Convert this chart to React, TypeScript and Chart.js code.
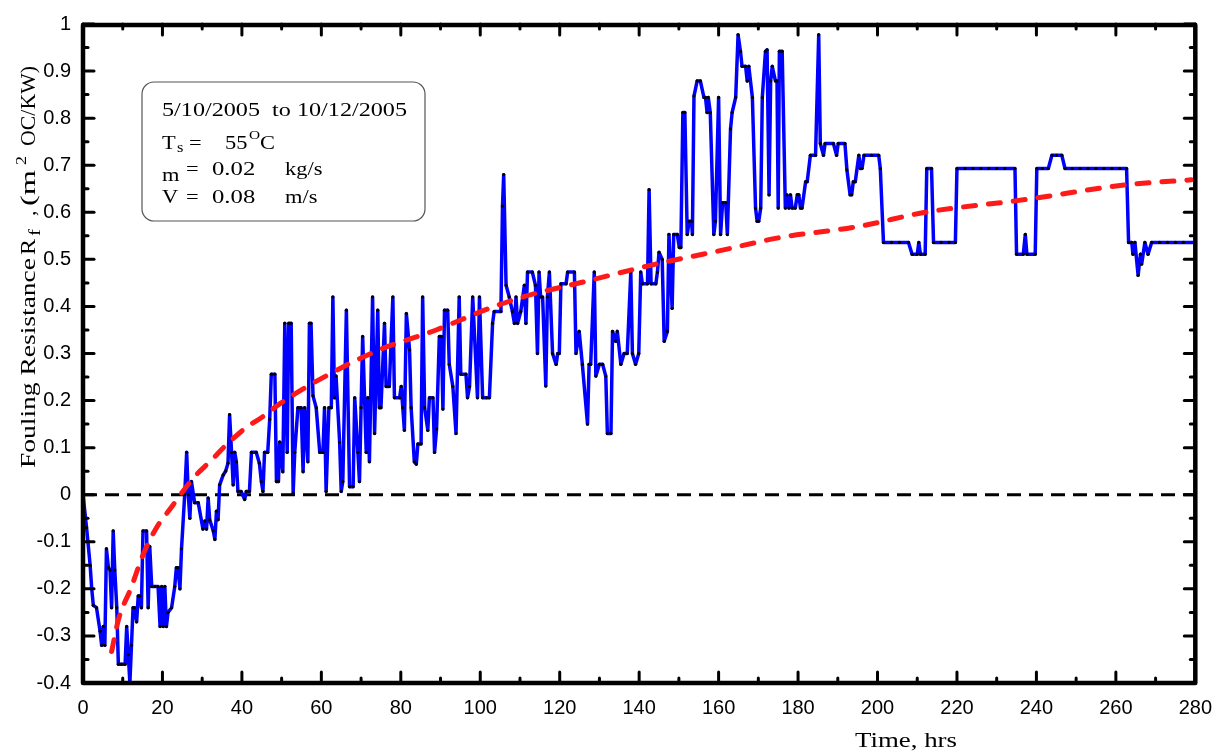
import React, { useEffect, useRef } from "react";
import { Chart, registerables } from "chart.js";

Chart.register(...registerables);

// Measured fouling resistance: [time (hrs), Rf]
const measured: [number, number][] = [
  [0, 0], [0.9, -0.07], [1.8, -0.15], [2.2, -0.2], [2.6, -0.235], [3.4, -0.24], [4.3, -0.29], [4.7, -0.32], [5.1, -0.28], [5.5, -0.32],
  [5.9, -0.115], [6.4, -0.155], [6.8, -0.16], [7.2, -0.24], [7.6, -0.077], [8.0, -0.16], [8.5, -0.24], [8.9, -0.36], [9.7, -0.36], [10.6, -0.36],
  [11.0, -0.28], [11.4, -0.34], [11.8, -0.4], [12.2, -0.32], [12.6, -0.24], [13.0, -0.24], [13.5, -0.27], [13.9, -0.215], [14.3, -0.215], [14.7, -0.24],
  [15.1, -0.077], [16.0, -0.077], [16.4, -0.24], [16.8, -0.11], [17.3, -0.195], [18.1, -0.195], [18.9, -0.195], [19.4, -0.28], [19.8, -0.195], [20.2, -0.28],
  [20.6, -0.195], [21.0, -0.28], [21.4, -0.25], [22.3, -0.24], [23.1, -0.195], [23.5, -0.155], [23.9, -0.155], [24.4, -0.2], [24.8, -0.115], [25.6, 0],
  [26.1, 0.09], [26.5, 0], [26.9, -0.05], [27.3, 0.028], [28.1, -0.017], [29.0, -0.017], [30.2, -0.073], [30.7, -0.056], [31.1, -0.073], [31.5, -0.007],
  [31.9, -0.053], [32.8, -0.077], [33.2, -0.095], [33.6, -0.035], [34.0, -0.053], [34.4, 0.021], [35.3, 0.042], [35.9, 0.05], [36.5, 0.067], [36.9, 0.17],
  [37.4, 0.09], [37.8, 0.021], [38.2, 0.09], [38.6, 0.07], [39.0, 0.007], [39.8, 0.007], [40.7, -0.01], [41.1, 0.007], [41.9, 0.007], [42.4, 0.09],
  [43.6, 0.09], [44.4, 0.067], [44.9, 0.028], [45.3, 0.007], [45.7, 0.09], [46.5, 0.09], [47.0, 0.16], [47.4, 0.256], [48.3, 0.256], [48.7, 0.028],
  [49.2, 0.028], [49.5, 0.112], [50.3, 0.049], [50.8, 0.364], [51.4, 0.09], [51.8, 0.364], [52.4, 0.364], [52.9, 0.003], [53.3, 0.09], [54.1, 0.185],
  [54.9, 0.185], [55.4, 0.049], [55.8, 0.185], [56.6, 0.07], [57.0, 0.364], [57.4, 0.364], [57.9, 0.21], [58.7, 0.185], [59.6, 0.09], [60.4, 0.09],
  [60.8, 0.185], [61.2, 0.007], [61.9, 0.185], [62.5, 0.185], [62.9, 0.42], [63.3, 0.206], [63.7, 0.252], [64.6, 0.112], [65.0, 0.007], [65.4, 0.028],
  [66.3, 0.392], [67.1, 0.017], [68.0, 0.017], [68.4, 0.206], [69.2, 0.09], [69.6, 0.028], [70.0, 0.185], [70.4, 0.336], [71.3, 0.09], [71.7, 0.206],
  [72.1, 0.07], [72.9, 0.42], [73.4, 0.13], [74.2, 0.392], [74.6, 0.185], [75.0, 0.185], [75.9, 0.364], [76.3, 0.23], [77.1, 0.23], [78.0, 0.42],
  [78.4, 0.206], [79.7, 0.206], [80.1, 0.23], [80.5, 0.185], [80.9, 0.137], [81.4, 0.385], [82.2, 0.308], [82.6, 0.185], [83.4, 0.07], [83.9, 0.065],
  [84.3, 0.108], [85.1, 0.108], [85.5, 0.42], [86.0, 0.185], [86.8, 0.137], [87.2, 0.206], [88.1, 0.206], [88.5, 0.09], [89.0, 0.14], [89.7, 0.336],
  [90.2, 0.336], [90.6, 0.182], [91.0, 0.392], [91.8, 0.392], [92.2, 0.277], [93.1, 0.23], [93.9, 0.13], [94.7, 0.42], [95.1, 0.256], [96.4, 0.256],
  [96.8, 0.206], [97.3, 0.23], [98.1, 0.42], [99.3, 0.206], [99.8, 0.42], [100.6, 0.206], [101.5, 0.206], [102.3, 0.206], [103.1, 0.364], [103.5, 0.389],
  [105.2, 0.389], [105.6, 0.613], [105.9, 0.68], [106.5, 0.445], [107.3, 0.42], [108.1, 0.389], [108.6, 0.364], [109.0, 0.42], [109.4, 0.364], [110.2, 0.389],
  [111.1, 0.445], [111.5, 0.364], [111.9, 0.473], [113.1, 0.473], [113.9, 0.445], [114.4, 0.3], [114.8, 0.473], [115.2, 0.42], [115.7, 0.42], [116.5, 0.231],
  [116.9, 0.42], [117.4, 0.473], [118.2, 0.3], [119.1, 0.277], [119.5, 0.3], [119.9, 0.3], [120.3, 0.448], [121.6, 0.448], [122.0, 0.473], [123.7, 0.473],
  [124.1, 0.3], [124.9, 0.347], [125.7, 0.277], [127.0, 0.15], [127.4, 0.277], [127.8, 0.277], [128.7, 0.473], [129.1, 0.252], [130.0, 0.277], [130.8, 0.277],
  [131.6, 0.252], [132.0, 0.13], [132.9, 0.13], [133.3, 0.347], [134.1, 0.326], [134.5, 0.347], [135.4, 0.277], [136.2, 0.3], [137.0, 0.3], [137.9, 0.473],
  [138.3, 0.3], [139.1, 0.277], [139.9, 0.3], [140.4, 0.473], [140.8, 0.448], [142.1, 0.448], [142.5, 0.648], [143.0, 0.448], [144.2, 0.448], [144.6, 0.473],
  [145.0, 0.515], [145.8, 0.5], [146.3, 0.326], [147.1, 0.347], [147.5, 0.553], [148.3, 0.396], [148.7, 0.553], [149.6, 0.553], [150.1, 0.525], [150.5, 0.525],
  [151.0, 0.812], [151.5, 0.812], [152.1, 0.553], [152.6, 0.581], [153.2, 0.581], [153.4, 0.553], [153.8, 0.847], [154.6, 0.879], [155.4, 0.879], [156.3, 0.844],
  [156.7, 0.844], [157.1, 0.812], [157.4, 0.844], [157.9, 0.812], [158.8, 0.553], [159.2, 0.581], [160.0, 0.844], [160.5, 0.553], [161.0, 0.62], [161.8, 0.62],
  [162.2, 0.553], [163.0, 0.777], [163.4, 0.812], [164.3, 0.844], [164.9, 0.977], [165.5, 0.942], [165.9, 0.91], [166.8, 0.91], [167.2, 0.879], [167.6, 0.91],
  [168.5, 0.844], [169.3, 0.609], [169.7, 0.581], [170.1, 0.581], [170.6, 0.609], [171.0, 0.844], [171.8, 0.942], [172.2, 0.945], [172.7, 0.637], [173.1, 0.879],
  [173.5, 0.91], [174.3, 0.879], [174.7, 0.879], [175.0, 0.609], [175.3, 0.942], [176.0, 0.942], [176.8, 0.609], [177.2, 0.637], [177.7, 0.609], [178.1, 0.637],
  [178.5, 0.609], [179.3, 0.609], [179.8, 0.637], [180.2, 0.637], [180.6, 0.609], [181.0, 0.609], [181.9, 0.665], [182.3, 0.665], [183.1, 0.721], [184.4, 0.721],
  [185.2, 0.977], [185.6, 0.746], [186.4, 0.721], [186.8, 0.746], [188.9, 0.746], [189.7, 0.721], [190.1, 0.746], [191.8, 0.746], [192.3, 0.69], [193.1, 0.637],
  [193.5, 0.637], [193.9, 0.665], [194.4, 0.665], [195.3, 0.721], [195.7, 0.693], [196.1, 0.693], [196.6, 0.721], [198.5, 0.721], [200.3, 0.721], [200.7, 0.693],
  [201.5, 0.536], [203.5, 0.536], [205.5, 0.536], [207.8, 0.536], [208.7, 0.511], [210.0, 0.511], [210.4, 0.536], [210.8, 0.511], [212.0, 0.511], [212.4, 0.693],
  [213.6, 0.693], [214.1, 0.536], [216.0, 0.536], [218.0, 0.536], [219.6, 0.536], [220.0, 0.693], [222.0, 0.693], [224.0, 0.693], [226.0, 0.693], [228.0, 0.693],
  [230.0, 0.693], [232.0, 0.693], [234.6, 0.693], [235.0, 0.511], [236.7, 0.511], [237.2, 0.553], [237.6, 0.511], [239.7, 0.511], [240.1, 0.693], [241.5, 0.693],
  [243.0, 0.693], [243.9, 0.721], [245.0, 0.721], [246.4, 0.721], [247.2, 0.693], [249.0, 0.693], [251.0, 0.693], [253.0, 0.693], [255.0, 0.693], [257.0, 0.693],
  [259.0, 0.693], [261.0, 0.693], [262.7, 0.693], [263.2, 0.536], [264.0, 0.536], [264.3, 0.511], [264.8, 0.536], [265.6, 0.466], [266.2, 0.511], [266.5, 0.49],
  [267.3, 0.536], [268.1, 0.511], [269.0, 0.536], [271.0, 0.536], [273.0, 0.536], [275.0, 0.536], [277.0, 0.536], [280.0, 0.536],
];

// Fitted trend (red dashed)
const fitHours = [7.2, 9.0, 12.0, 15.2, 18.5, 22.3, 25.4, 28.6, 31.9, 36.1, 41.1, 45.3, 49.5, 59.6, 73.8, 88.9, 102.3, 110.7, 127.4, 144.2, 160.1, 175.2, 195.3, 212, 237.2, 262.3, 279];
const fitRf = [-0.333, -0.263, -0.2, -0.126, -0.07, -0.026, 0.01, 0.043, 0.07, 0.106, 0.143, 0.166, 0.193, 0.245, 0.305, 0.35, 0.396, 0.42, 0.455, 0.49, 0.518, 0.546, 0.57, 0.6, 0.627, 0.658, 0.669];

// Zero reference line
const zeroHours = [0, 280];
const zeroRf = [0, 0];

// Axes
const xMin = 0, xMax = 280, xStep = 20;
const yMin = -0.4, yMax = 1, yStep = 0.1;

const infoDate = "5/10/2005  to 10/12/2005";
const infoTs = "55";
const infoM = "0.02";
const infoMUnit = "kg/s";
const infoV = "0.08";
const infoVUnit = "m/s";

const SERIF = '"Liberation Serif", "Times New Roman", Times, serif';
const SANS = '"Liberation Sans", Arial, Helvetica, sans-serif';

function txt(ctx: CanvasRenderingContext2D, s: string, x: number, y: number, size: number, sx = 1.18) {
  ctx.save();
  ctx.translate(x, y);
  ctx.font = `${size}px ${SERIF}`;
  ctx.scale(sx, 1);
  ctx.fillText(s, 0, 0);
  ctx.restore();
}

function txtFit(ctx: CanvasRenderingContext2D, s: string, x: number, y: number, size: number, width: number) {
  ctx.save();
  ctx.font = `${size}px ${SERIF}`;
  const w = ctx.measureText(s).width;
  ctx.translate(x, y);
  ctx.scale(width / w, 1);
  ctx.fillText(s, 0, 0);
  ctx.restore();
}

const framePlugin = {
  id: "frameTicks",
  afterDatasetsDraw(chart: any) {
    const { ctx, chartArea: a, scales } = chart;
    const xs = scales.x, ys = scales.y;
    ctx.save();
    ctx.strokeStyle = "#000";
    ctx.lineCap = "round";
    ctx.lineWidth = 3;
    const major = 11, minor = 5;
    const seg = (x1: number, y1: number, x2: number, y2: number) => {
      ctx.beginPath(); ctx.moveTo(x1, y1); ctx.lineTo(x2, y2); ctx.stroke();
    };
    const xt = xs.ticks;
    xt.forEach((t: any, i: number) => {
      const p = xs.getPixelForValue(t.value);
      seg(p, a.bottom, p, a.bottom - major);
      seg(p, a.top, p, a.top + major);
      if (i < xt.length - 1) {
        const m = xs.getPixelForValue((t.value + xt[i + 1].value) / 2);
        seg(m, a.bottom, m, a.bottom - minor);
        seg(m, a.top, m, a.top + minor);
      }
    });
    const yt = ys.ticks;
    yt.forEach((t: any, i: number) => {
      const p = ys.getPixelForValue(t.value);
      seg(a.left, p, a.left + major, p);
      seg(a.right, p, a.right - major, p);
      if (i < yt.length - 1) {
        const m = ys.getPixelForValue((t.value + yt[i + 1].value) / 2);
        seg(a.left, m, a.left + minor, m);
        seg(a.right, m, a.right - minor, m);
      }
    });
    ctx.lineWidth = 4.5;
    ctx.lineJoin = "round";
    ctx.strokeRect(a.left, a.top + 1, a.right - a.left, a.bottom - a.top - 1);

    // info box
    const bx = a.left + 59, by = a.top + 58, bw = 283, bh = 139;
    ctx.beginPath();
    (ctx as any).roundRect(bx, by, bw, bh, 12);
    ctx.fillStyle = "#fff";
    ctx.fill();
    ctx.lineWidth = 1.2;
    ctx.strokeStyle = "#555";
    ctx.stroke();
    ctx.fillStyle = "#000";
    ctx.textBaseline = "alphabetic";
    const tx = bx + 20;
    txtFit(ctx, infoDate, tx, by + 34, 19, 245);
    // Ts = 55 oC
    txt(ctx, "T", tx, by + 67, 19);
    txt(ctx, "s", tx + 15, by + 70, 14);
    txt(ctx, "=", tx + 27, by + 67, 19);
    txt(ctx, infoTs, tx + 63, by + 67, 19);
    txt(ctx, "O", tx + 87, by + 57, 13);
    txt(ctx, "C", tx + 98, by + 67, 19);
    // m = 0.02 kg/s
    txt(ctx, "m", tx, by + 99, 19);
    txt(ctx, "=", tx + 24, by + 93, 19);
    txt(ctx, infoM, tx + 50, by + 93, 19, 1.3);
    txt(ctx, infoMUnit, tx + 123, by + 93, 19);
    // V = 0.08 m/s
    txt(ctx, "V", tx, by + 121, 19);
    txt(ctx, "=", tx + 24, by + 121, 19);
    txt(ctx, infoV, tx + 50, by + 121, 19, 1.3);
    txt(ctx, infoVUnit, tx + 123, by + 121, 19);
    ctx.restore();
  },
  afterDraw(chart: any) {
    const { ctx, chartArea: a } = chart;
    ctx.save();
    ctx.fillStyle = "#000";
    ctx.textBaseline = "alphabetic";
    // x title
    txtFit(ctx, "Time, hrs", a.left + 772, a.bottom + 64, 22, 102);
    // y title (rotated)
    ctx.translate(35, a.top + 444);
    ctx.rotate(-Math.PI / 2);
    txtFit(ctx, "Fouling Resistance", 0, 0, 20, 210);
    txt(ctx, "R", 213, 0, 20, 1.2);
    txt(ctx, "f", 232, 5, 16, 1.3);
    txt(ctx, ",", 252, 0, 20, 1.1);
    txtFit(ctx, "(m", 262, 0, 20, 36);
    txt(ctx, "2", 303, -9, 15, 1.2);
    txtFit(ctx, "OC/KW)", 322, 0, 20, 80);
    ctx.restore();
  },
};

export default function App() {
  const ref = useRef<HTMLCanvasElement | null>(null);
  useEffect(() => {
    document.body.style.margin = "0";
    const canvas = ref.current;
    if (!canvas) return;
    const chart = new Chart(canvas, {
      type: "line",
      data: {
        datasets: [
          {
            label: "Fit",
            data: fitHours.map((h, i) => ({ x: h, y: fitRf[i] })),
            borderColor: "#ff1a1a",
            borderWidth: 5,
            borderDash: [12, 13],
            borderCapStyle: "round",
            pointRadius: 0,
            tension: 0.4,
            cubicInterpolationMode: "monotone",
            fill: false,
          },
          {
            label: "Rf",
            data: measured.map(([h, r]) => ({ x: h, y: r })),
            borderColor: "#0000ff",
            borderWidth: 3.5,
            borderJoinStyle: "round",
            pointRadius: 1.6,
            pointBackgroundColor: "#000",
            pointBorderWidth: 0,
            tension: 0,
            fill: false,
          },
          {
            label: "zero",
            data: zeroHours.map((h, i) => ({ x: h, y: zeroRf[i] })),
            borderColor: "#000",
            borderWidth: 3,
            borderDash: [14, 8],
            pointRadius: 0,
            fill: false,
          },
        ],
      },
      options: {
        animation: false,
        responsive: true,
        maintainAspectRatio: false,
        layout: { padding: { top: 16, right: 27, left: 0, bottom: 0 } },
        plugins: { legend: { display: false }, tooltip: { enabled: false } },
        scales: {
          x: {
            type: "linear",
            min: xMin,
            max: xMax,
            grid: { display: false, drawTicks: false },
            border: { display: false },
            ticks: {
              stepSize: xStep,
              padding: 13,
              color: "#000",
              font: { family: SANS, size: 20 },
              maxRotation: 0,
            },
            afterFit: (s: any) => { s.height = 73; },
          },
          y: {
            type: "linear",
            min: yMin,
            max: yMax,
            grid: { display: false, drawTicks: false },
            border: { display: false },
            ticks: {
              stepSize: yStep,
              padding: 12,
              color: "#000",
              font: { family: SANS, size: 20 },
              callback: (v: any) => String(Math.round(Number(v) * 10) / 10),
            },
            afterFit: (s: any) => { s.width = 83; },
          },
        },
      },
      plugins: [framePlugin],
    } as any);
    return () => chart.destroy();
  }, []);
  return (
    <div style={{ position: "fixed", left: 0, top: 0, width: 1225, height: 756, background: "#fff" }}>
      <canvas ref={ref} />
    </div>
  );
}
